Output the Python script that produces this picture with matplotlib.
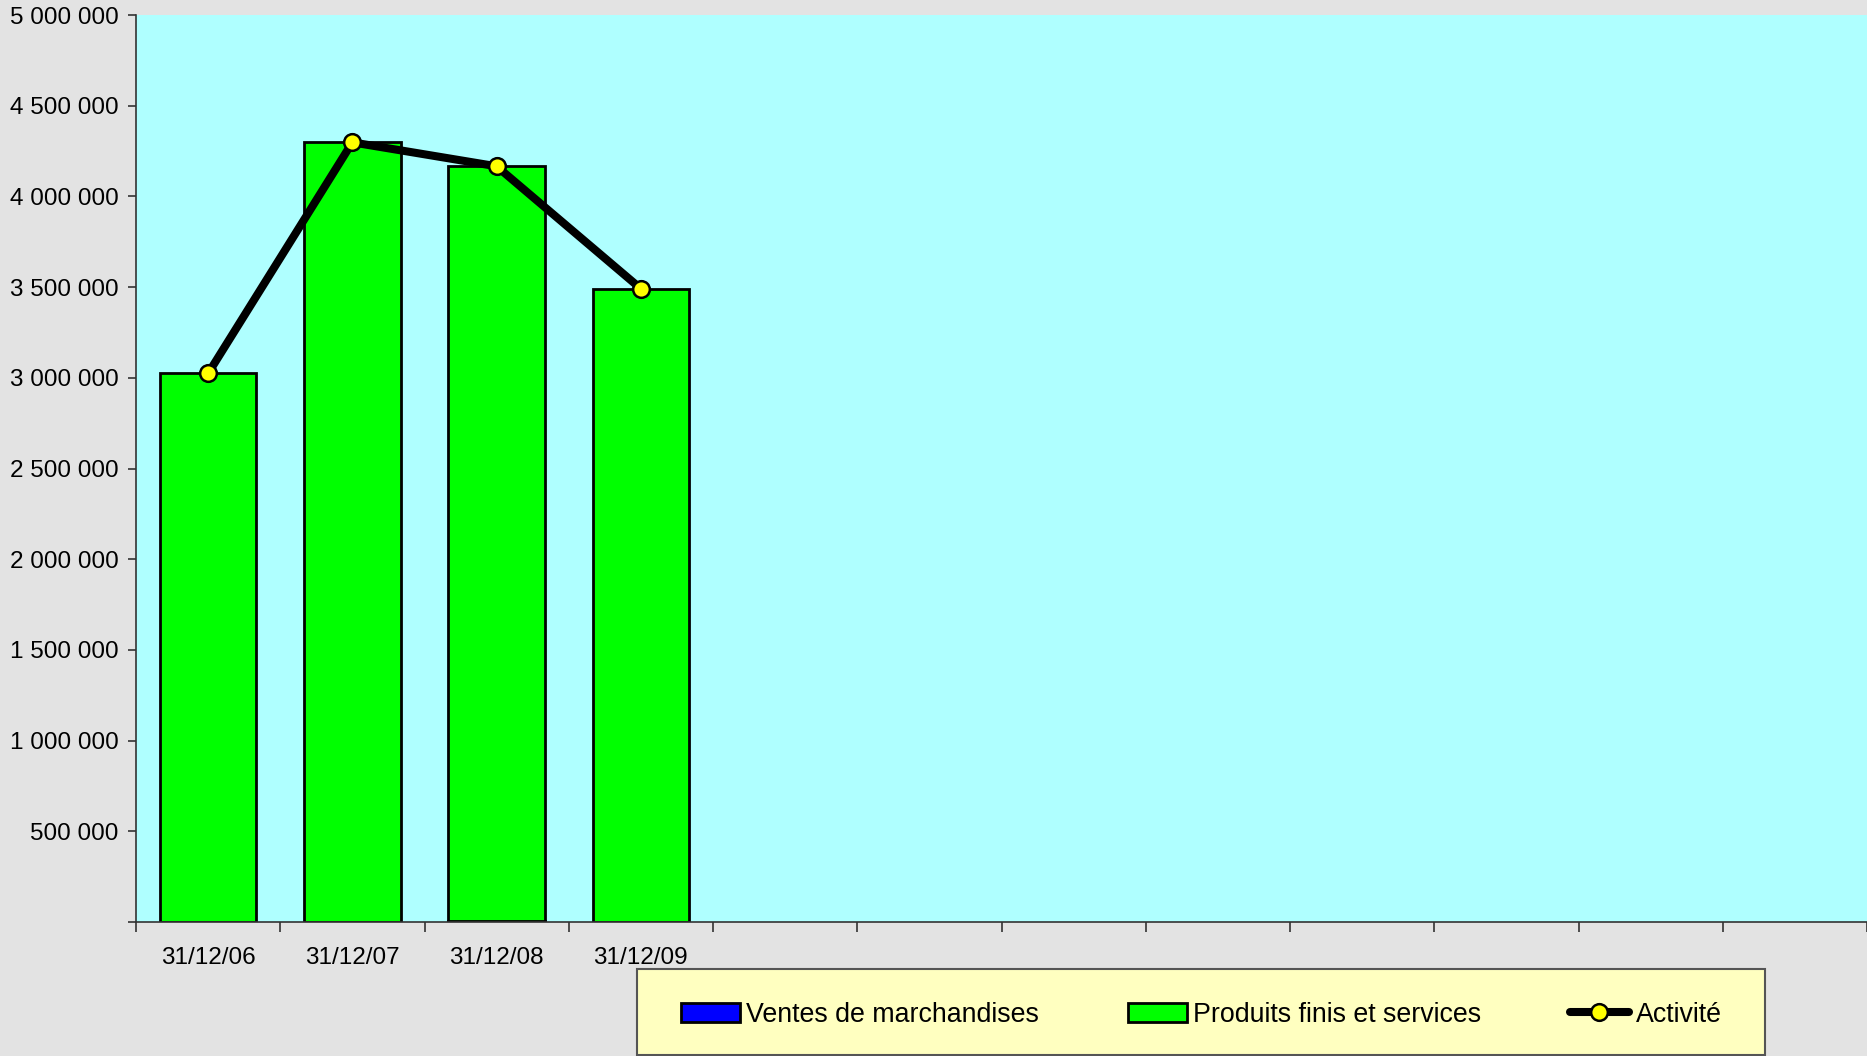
import matplotlib
matplotlib.use("Agg")
import matplotlib.pyplot as plt
from matplotlib.patches import Rectangle
from matplotlib.ticker import FuncFormatter, FixedLocator
import numpy as np

plt.rcParams['font.family'] = ['Liberation Sans', 'DejaVu Sans']

# ---- data ----
categories = ["31/12/06", "31/12/07", "31/12/08", "31/12/09"]
n_slots = 12  # category slots on the axis (only first 4 have data)
ventes_marchandises = [0, 0, 8000, 0]
produits_finis = [3024000, 4298000, 4158000, 3491000]
activite = [a + b for a, b in zip(ventes_marchandises, produits_finis)]
y_ticks = [0, 500000, 1000000, 1500000, 2000000, 2500000, 3000000,
           3500000, 4000000, 4500000, 5000000]

W, H = 1867, 1056
fig = plt.figure(figsize=(W / 100, H / 100), dpi=100)
fig.patch.set_facecolor('#E3E3E3')

ax = fig.add_axes([136 / W, 1 - 922 / H, 1 - 136 / W, (922 - 15) / H])
ax.set_facecolor('#AFFFFF')

x = np.arange(len(categories))
bw = 0.67
b1 = ax.bar(x, ventes_marchandises, bw, color='#0000FF', edgecolor='black',
            linewidth=2, label='Ventes de marchandises', zorder=2)
b2 = ax.bar(x, produits_finis, bw, bottom=ventes_marchandises, color='#00FF00',
            edgecolor='black', linewidth=2, label='Produits finis et services', zorder=2)
ln, = ax.plot(x, activite, color='black', linewidth=5.8, marker='o', markersize=12,
              markerfacecolor='#FFFF00', markeredgecolor='black', markeredgewidth=1.8,
              label='Activité', zorder=3, solid_capstyle='round')

ax.set_xlim(-0.5, n_slots - 0.5)
ax.set_ylim(0, 5000000)

for side in ['top', 'right']:
    ax.spines[side].set_visible(False)
for side in ['left', 'bottom']:
    ax.spines[side].set_color('#333333')
    ax.spines[side].set_linewidth(1.2)

ax.yaxis.set_major_locator(FixedLocator(y_ticks))
ax.yaxis.set_major_formatter(FuncFormatter(
    lambda v, p: '' if v == 0 else f"{int(v):,}".replace(',', ' ')))
ax.tick_params(axis='y', direction='out', length=6, width=1.2, color='#333333',
               pad=6.5, labelsize=17.5)

ax.set_xticks(x)
ax.set_xticklabels(categories)
ax.set_xticks(np.arange(n_slots + 1) - 0.5, minor=True)
ax.tick_params(axis='x', which='major', length=0, pad=18, labelsize=17.5)
ax.tick_params(axis='x', which='minor', direction='out', length=7, width=1.2,
               color='#333333')

# legend box
lx0, lx1, ly0, ly1 = 637, 1765, 969, 1055
fig.patches.append(Rectangle((lx0 / W, 1 - ly1 / H), (lx1 - lx0) / W, (ly1 - ly0) / H,
                             transform=fig.transFigure, facecolor='#FFFFC0',
                             edgecolor='#555555', linewidth=1.5, zorder=0))
leg = fig.legend([b1, b2, ln],
                 ['Ventes de marchandises', 'Produits finis et services', 'Activité'],
                 loc='center', ncol=3,
                 bbox_to_anchor=((lx0 + lx1) / 2 / W, 1 - ((ly0 + ly1) / 2 + 2.5) / H),
                 frameon=False, fontsize=19.3, handlelength=2.2, handleheight=0.7,
                 handletextpad=0.25, columnspacing=3.3)

fig.savefig('out.png', dpi=100, facecolor=fig.get_facecolor())
